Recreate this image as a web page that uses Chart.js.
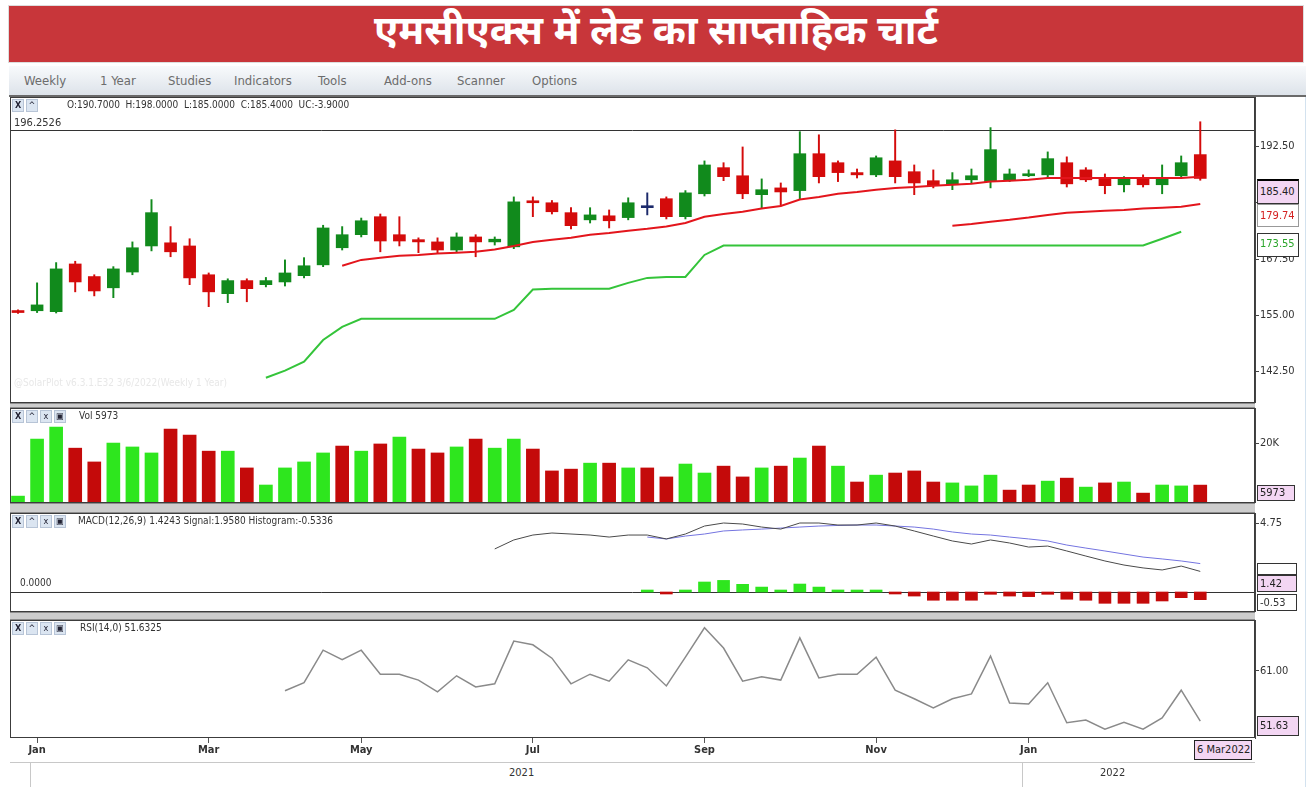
<!DOCTYPE html>
<html lang="hi">
<head>
<meta charset="UTF-8">
<title>MCX Lead weekly chart</title>
<script src="https://cdn.jsdelivr.net/npm/chart.js@4.4.1/dist/chart.umd.min.js"></script>
<style>
    body { margin: 0; width: 1312px; height: 787px; background: #fff; position: relative; overflow: hidden;
           font-family: 'Liberation Sans Narrow', 'DejaVu Sans Condensed', Arial, sans-serif; color: #333; }
    .abs { position: absolute; }
    #title { left: 9px; top: 6px; width: 1294px; height: 56px; background: #c8363a; color: #fff;
             font: bold 40px 'Noto Sans Devanagari', 'Lohit Devanagari', 'Noto Sans', sans-serif;
             text-align: center; line-height: 56px; box-shadow: 0 0 0 1px #ddd; }
    #toolbar { left: 9px; top: 66px; width: 1297px; height: 29px; background: linear-gradient(#f8fafc, #dde3ea);
               border-bottom: 2px solid #6a6a6a; }
    #toolbar span { position: absolute; top: 7px; font-size: 13px; color: #6c6c6c; }
    .sep { left: 10px; width: 1245px; background: #cdcdcd; border-top: 1px solid #8c8c8c; border-bottom: 1px solid #8c8c8c; box-sizing: border-box; }
    .hdr { font-size: 10px; color: #333; white-space: nowrap; }
    .ico { display: inline-block; width: 10px; height: 11px; margin-right: 2px; background: #dbe5f1; border: 1px solid #b7c4d6;
           font-size: 9px; line-height: 11px; text-align: center; color: #223; vertical-align: top; }
    .box { left: 1257px; width: 42px; font-size: 11px; text-align: left; padding-left: 2px; box-sizing: border-box; border: 1px solid #333; }
    .pink { background: #f3d6f3; color: #222; }
    .wrap { left: 10px; }
</style>
</head>
<body>
<div id="title" class="abs">एमसीएक्स में लेड का साप्ताहिक चार्ट</div>
<div id="toolbar" class="abs">
    <span style="left:15px">Weekly</span>
    <span style="left:91px">1 Year</span>
    <span style="left:159px">Studies</span>
    <span style="left:225px">Indicators</span>
    <span style="left:309px">Tools</span>
    <span style="left:375px">Add-ons</span>
    <span style="left:448px">Scanner</span>
    <span style="left:523px">Options</span>
</div>

<div class="abs wrap" style="top:97px"><canvas id="priceChart" width="1295" height="306"></canvas></div>
<div class="abs sep" style="top:403px;height:5px"></div>
<div class="abs wrap" style="top:408px"><canvas id="volChart" width="1295" height="95"></canvas></div>
<div class="abs sep" style="top:503px;height:10px"></div>
<div class="abs wrap" style="top:513px"><canvas id="macdChart" width="1295" height="99"></canvas></div>
<div class="abs sep" style="top:612px;height:8px"></div>
<div class="abs wrap" style="top:620px"><canvas id="rsiChart" width="1295" height="142"></canvas></div>

<!-- panel headers -->
<div class="abs hdr" style="left:12px;top:99px"><span class="ico"><b>X</b></span><span class="ico">^</span></div>
<div class="abs hdr" style="left:67px;top:99px">O:190.7000 &nbsp;H:198.0000 &nbsp;L:185.0000 &nbsp;C:185.4000 &nbsp;UC:-3.9000</div>
<div class="abs hdr" style="left:14px;top:116px;font-size:11px">196.2526</div>
<div class="abs hdr" style="left:14px;top:377px;color:#e8e8e8">@SolarPlot v6.3.1.E32 3/6/2022(Weekly 1 Year)</div>

<div class="abs hdr" style="left:12px;top:410px"><span class="ico"><b>X</b></span><span class="ico">^</span><span class="ico">x</span><span class="ico">&#9635;</span></div>
<div class="abs hdr" style="left:79px;top:410px">Vol 5973</div>

<div class="abs hdr" style="left:12px;top:515px"><span class="ico"><b>X</b></span><span class="ico">^</span><span class="ico">x</span><span class="ico">&#9635;</span></div>
<div class="abs hdr" style="left:78px;top:515px">MACD(12,26,9) 1.4243 Signal:1.9580 Histogram:-0.5336</div>
<div class="abs hdr" style="left:20px;top:577px">0.0000</div>

<div class="abs hdr" style="left:12px;top:622px"><span class="ico"><b>X</b></span><span class="ico">^</span><span class="ico">x</span><span class="ico">&#9635;</span></div>
<div class="abs hdr" style="left:80px;top:622px">RSI(14,0) 51.6325</div>

<!-- right side value boxes -->
<div class="abs box pink" style="top:179px;height:25px;line-height:21px;border-top:2px solid #000">185.40</div>
<div class="abs box" style="top:204px;height:23px;line-height:21px;color:#d42020;border-color:#999;background:#fff">179.74</div>
<div class="abs box" style="top:233px;height:24px;line-height:20px;color:#2aa52a;background:#fff">173.55</div>
<div class="abs box pink" style="top:485px;height:16px;line-height:14px;width:38px">5973</div>
<div class="abs box" style="top:563px;height:12px;width:40px;background:#fff"></div>
<div class="abs box pink" style="top:575px;height:17px;line-height:15px;width:40px">1.42</div>
<div class="abs box" style="top:594px;height:17px;line-height:15px;width:40px;background:#fff">-0.53</div>
<div class="abs box pink" style="top:716px;height:20px;line-height:18px">51.63</div>
<div class="abs box pink" style="left:1194px;top:740px;width:58px;height:20px;line-height:18px;border-color:#222">6 Mar2022</div>

<!-- year row -->
<div class="abs" style="left:10px;top:762px;width:1245px;height:1px;background:#c8c8c8"></div>
<div class="abs" style="left:30px;top:763px;width:1px;height:24px;background:#c8c8c8"></div>
<div class="abs" style="left:1022px;top:763px;width:1px;height:24px;background:#c8c8c8"></div>
<div class="abs hdr" style="left:509px;top:766px;font-size:11px">2021</div>
<div class="abs hdr" style="left:1100px;top:766px;font-size:11px">2022</div>
<div class="abs" style="left:1305px;top:97px;width:1px;height:690px;background:#d3e2ef"></div>

<script>
    // weekly candles, 27 Dec 2020 .. 6 Mar 2022
    var firstWeek = new Date(2020, 11, 27);
    var weeks = [];
    for (var w = 0; w < 63; w++) {
        var d = new Date(firstWeek.getTime() + w * 7 * 86400000);
        weeks.push(d.toDateString());
    }

    var opens = [155.9, 156.0, 155.8, 166.4, 163.6, 161.1, 164.6, 170.4, 171.1, 170.4,
        164.0, 159.8, 162.7, 161.8, 162.4, 163.8, 166.2, 170.0, 172.9, 176.9,
        172.9, 171.8, 171.3, 169.5, 172.4, 171.3, 170.2, 180.3, 180.0, 177.8,
        176.2, 177.1, 176.7, 178.9, 180.9, 176.9, 182.0, 187.8, 186.0, 181.8,
        183.3, 182.7, 190.9, 188.9, 186.7, 186.2, 189.3, 186.9, 184.9, 184.0,
        185.1, 184.7, 185.1, 186.0, 186.2, 188.9, 187.3, 185.3, 184.0, 185.3,
        184.0, 186.0, 190.7];
    var highs = [156.2, 162.2, 166.7, 167.0, 164.0, 165.8, 171.3, 180.7, 174.7, 172.0,
        164.4, 163.1, 163.1, 163.4, 167.3, 167.8, 175.0, 174.7, 176.6, 177.5,
        176.9, 172.2, 172.2, 173.3, 172.9, 172.4, 181.3, 181.3, 180.5, 178.9,
        178.9, 178.4, 181.1, 182.2, 181.3, 182.7, 189.3, 188.9, 192.4, 185.3,
        184.4, 195.8, 195.1, 189.3, 187.5, 190.4, 196.2, 188.4, 187.3, 186.7,
        187.5, 196.7, 187.5, 187.3, 191.3, 190.2, 187.8, 186.4, 185.8, 186.2,
        188.4, 190.4, 198.0];
    var lows = [155.4, 155.6, 155.5, 160.2, 159.3, 158.9, 164.0, 169.3, 168.0, 161.8,
        156.9, 157.8, 158.0, 161.3, 161.5, 163.3, 165.8, 169.5, 172.4, 169.1,
        170.4, 168.9, 168.9, 169.0, 168.0, 170.6, 169.8, 176.9, 177.5, 174.2,
        175.5, 174.4, 176.2, 177.3, 176.4, 176.4, 181.5, 184.9, 180.9, 178.9,
        179.3, 180.7, 184.4, 184.7, 185.5, 185.8, 184.4, 181.8, 183.3, 182.9,
        184.4, 183.3, 184.7, 185.8, 185.5, 183.5, 184.7, 182.0, 182.4, 183.5,
        182.0, 185.5, 185.0];
    var closes = [155.6, 157.3, 165.3, 162.4, 160.4, 165.3, 170.0, 177.8, 169.1, 163.3,
        160.2, 162.7, 160.9, 162.7, 164.4, 166.0, 174.4, 172.9, 176.0, 171.5,
        171.5, 171.3, 169.5, 172.4, 171.3, 171.9, 180.2, 180.0, 178.0, 174.9,
        177.3, 176.0, 180.0, 178.9, 176.9, 182.2, 188.4, 185.8, 182.0, 182.9,
        182.4, 190.9, 185.8, 186.7, 186.2, 190.0, 185.8, 184.4, 183.8, 185.1,
        186.0, 191.8, 186.4, 186.4, 189.8, 184.2, 185.1, 183.8, 185.3, 184.0,
        185.5, 188.9, 185.4];

    var volume = [2300, 21300, 25300, 18300, 13700, 20000, 18700, 16700, 24700, 22700,
        17300, 17300, 11700, 6000, 11700, 13700, 16700, 19000, 17300, 19700,
        22000, 18000, 16700, 18700, 21300, 18300, 21300, 18000, 10700, 11300,
        13300, 13300, 11700, 11700, 8700, 13000, 10000, 12300, 8700, 11700,
        12300, 15000, 19000, 12300, 7000, 9300, 10000, 10700, 7000, 6700,
        5700, 9300, 4300, 6000, 7300, 8300, 5300, 6700, 7000, 3300,
        6000, 5700, 5973];
    var volUp = [1, 1, 1, 0, 0, 1, 1, 1, 0, 0, 0, 1, 0, 1, 1, 1, 1, 0, 1, 0,
        1, 0, 0, 1, 0, 1, 1, 0, 0, 0, 1, 0, 1, 0, 0, 1, 1, 0, 0, 1,
        0, 1, 0, 1, 0, 1, 0, 0, 0, 1, 1, 1, 0, 0, 1, 0, 1, 0, 1, 0,
        1, 1, 0];

    // averages / bands, each starts at the given week index
    var maFastStart = 17;
    var maFast = [166.0, 167.3, 167.8, 168.2, 168.4, 168.7, 168.9, 169.1, 169.6, 170.4,
        171.3, 171.8, 172.2, 172.9, 173.3, 173.8, 174.2, 174.7, 175.5, 176.9,
        177.5, 178.0, 178.7, 179.3, 180.7, 181.3, 182.0, 182.4, 182.9, 183.3,
        183.5, 183.8, 184.0, 184.2, 184.7, 184.9, 185.1, 185.5, 185.5, 185.5,
        185.5, 185.5, 185.5, 185.5, 185.5, 185.8];
    var maSlowStart = 49;
    var maSlow = [174.9, 175.3, 175.8, 176.2, 176.7, 177.3, 177.8, 178.0, 178.2, 178.4,
        178.7, 178.9, 179.1, 179.74];
    var bandStart = 13;
    var band = [141.1, 142.7, 144.7, 149.5, 152.4, 154.2, 154.2, 154.2, 154.2, 154.2,
        154.2, 154.2, 154.2, 156.2, 160.7, 160.9, 160.9, 160.9, 160.9, 162.2,
        163.3, 163.5, 163.5, 168.4, 170.5, 170.5, 170.5, 170.5, 170.5, 170.5,
        170.5, 170.5, 170.5, 170.5, 170.5, 170.5, 170.5, 170.5, 170.5, 170.5,
        170.5, 170.5, 170.5, 170.5, 170.5, 170.5, 170.5, 172.0, 173.55];
    var refLevel = 196.2526;

    var macdStart = 25;
    var macd = [2.97, 3.59, 3.93, 4.07, 4.0, 3.93, 3.79, 3.93, 3.93, 3.66,
        4.0, 4.55, 4.76, 4.69, 4.48, 4.34, 4.76, 4.76, 4.62, 4.62,
        4.76, 4.55, 4.21, 3.86, 3.52, 3.31, 3.59, 3.38, 3.10, 3.17,
        2.83, 2.48, 2.14, 1.86, 1.66, 1.52, 1.79, 1.42];
    var signalStart = 33;
    var signal = [3.79, 3.66, 3.86, 4.0, 4.21, 4.28, 4.34, 4.41, 4.48, 4.55,
        4.59, 4.62, 4.62, 4.55, 4.48, 4.34, 4.14, 4.0, 3.93, 3.79,
        3.66, 3.52, 3.24, 3.03, 2.83, 2.62, 2.41, 2.28, 2.14, 1.96];
    var hist = [0.1, -0.05, 0.05, 0.69, 0.8, 0.53, 0.34, 0.05, 0.55, 0.34,
        0.14, 0.1, 0.1, -0.05, -0.28, -0.57, -0.57, -0.57, -0.16, -0.28,
        -0.32, -0.16, -0.5, -0.57, -0.78, -0.78, -0.78, -0.62, -0.39, -0.53];

    var rsiStart = 14;
    var rsi = [57.3, 58.8, 64.9, 63.1, 64.9, 60.4, 60.4, 59.3, 57.1, 60.1,
        58.0, 58.6, 66.6, 65.9, 63.4, 58.6, 60.4, 59.1, 63.1, 61.6,
        58.2, 63.6, 69.1, 65.3, 59.1, 59.9, 59.3, 67.2, 59.7, 60.4,
        60.4, 63.6, 57.4, 55.8, 54.1, 55.8, 56.7, 63.8, 55.0, 54.8,
        58.8, 51.3, 51.8, 50.1, 51.4, 50.1, 52.2, 57.4, 51.63];

    var monthTickIdx = [1, 10, 18, 27, 36, 45, 53];
    var monthTickLbl = ['Jan', 'Mar', 'May', 'Jul', 'Sep', 'Nov', 'Jan'];

    var FONT = "'Liberation Sans Narrow', 'DejaVu Sans Condensed', Arial, sans-serif";
    var GREEN = '#118a1c', RED = '#d40b0b', NAVY = '#1c2a6b';
    var VOL_GREEN = '#2ee61e', VOL_RED = '#c40a0a';

    function series(start, arr) {
        return arr.map(function (v, k) { return {x: start + k, y: v}; });
    }
    function candleColor(i) {
        if (closes[i] > opens[i]) return GREEN;
        if (closes[i] < opens[i]) return RED;
        return NAVY;
    }

    var frame = {
        id: 'frame',
        afterDraw: function (chart) {
            var a = chart.chartArea, c = chart.ctx;
            c.save();
            c.strokeStyle = '#3c3c3c';
            c.lineWidth = 1;
            c.strokeRect(a.left + 0.5, a.top + 0.5, a.right - a.left - 1, a.bottom - a.top - 1);
            c.restore();
        }
    };
    var hlines = {
        id: 'hlines',
        beforeDatasetsDraw: function (chart, args, opts) {
            var a = chart.chartArea, c = chart.ctx, ys = chart.scales.y;
            (opts.lines || []).forEach(function (l) {
                var py = Math.round(ys.getPixelForValue(l.value)) + 0.5;
                c.save();
                c.strokeStyle = l.color;
                c.lineWidth = 1;
                c.beginPath();
                c.moveTo(a.left, py);
                c.lineTo(a.right, py);
                c.stroke();
                c.restore();
            });
        }
    };

    function xAxis(show) {
        return {
            type: 'linear', min: -0.42, max: 64.87, display: show, offset: false,
            afterBuildTicks: function (s) { s.ticks = monthTickIdx.map(function (v) { return {value: v}; }); },
            afterFit: function (s) { s.paddingLeft = 0; s.paddingRight = 0; if (show) s.height = 24; },
            grid: {offset: false, drawOnChartArea: false, tickLength: 5, color: '#555'},
            border: {display: false},
            ticks: {
                autoSkip: false, maxRotation: 0, padding: 1, color: '#333',
                font: {family: FONT, size: 11, weight: 'bold'},
                callback: function (v) { return monthTickLbl[monthTickIdx.indexOf(v)]; }
            }
        };
    }
    function yAxis(min, max, ticks, fmt) {
        return {
            position: 'right', min: min, max: max,
            afterBuildTicks: function (s) { s.ticks = ticks.map(function (v) { return {value: v}; }); },
            afterFit: function (s) { s.width = 50; s.paddingTop = 0; s.paddingBottom = 0; },
            grid: {drawOnChartArea: false, tickLength: 4, color: '#444'},
            border: {display: true, color: '#444'},
            ticks: {padding: 1, color: '#333', font: {family: FONT, size: 11}, callback: fmt}
        };
    }
    function baseOptions(scales, lines) {
        return {
            responsive: false, animation: false, events: [],
            layout: {padding: 0},
            plugins: {legend: {display: false}, tooltip: {enabled: false}, hlines: {lines: lines || []}},
            scales: scales
        };
    }

    window.onload = function () {
        // price panel
        new Chart(document.getElementById('priceChart'), {
            type: 'bar',
            data: {
                datasets: [{
                    type: 'line', data: series(maFastStart, maFast), borderColor: '#e3151c', borderWidth: 2,
                    pointRadius: 0, order: -1
                }, {
                    type: 'line', data: series(maSlowStart, maSlow), borderColor: '#e3151c', borderWidth: 2,
                    pointRadius: 0, order: -1
                }, {
                    type: 'line', data: series(bandStart, band), borderColor: '#34c43a', borderWidth: 2,
                    pointRadius: 0, order: -1
                }, {
                    data: opens.map(function (o, i) { return {x: i, y: [Math.min(o, closes[i]), Math.max(o, closes[i])]}; }),
                    backgroundColor: opens.map(function (o, i) { return candleColor(i); }),
                    barThickness: 12, minBarLength: 2, grouped: false, order: 0
                }, {
                    data: lows.map(function (l, i) { return {x: i, y: [l, highs[i]]}; }),
                    backgroundColor: lows.map(function (l, i) { return candleColor(i); }),
                    barThickness: 1.3, grouped: false, order: 1
                }]
            },
            options: baseOptions({
                x: xAxis(false),
                y: yAxis(135.5, 203.5, [142.5, 155, 167.5, 180, 192.5], function (v) { return v.toFixed(2); })
            }, [{value: refLevel, color: '#333'}]),
            plugins: [frame, hlines]
        });

        // volume panel
        new Chart(document.getElementById('volChart'), {
            type: 'bar',
            data: {
                datasets: [{
                    data: volume.map(function (v, i) { return {x: i, y: v}; }),
                    backgroundColor: volUp.map(function (u) { return u ? VOL_GREEN : VOL_RED; }),
                    barThickness: 13
                }]
            },
            options: baseOptions({
                x: xAxis(false),
                y: yAxis(0, 31700, [20000], function () { return '20K'; })
            }),
            plugins: [frame]
        });

        // MACD panel
        new Chart(document.getElementById('macdChart'), {
            type: 'bar',
            data: {
                datasets: [{
                    type: 'line', data: series(macdStart, macd), borderColor: '#4a4a4a', borderWidth: 1,
                    pointRadius: 0, order: -1
                }, {
                    type: 'line', data: series(signalStart, signal), borderColor: '#7474e0', borderWidth: 1,
                    pointRadius: 0, order: -1
                }, {
                    data: series(signalStart, hist),
                    backgroundColor: hist.map(function (h) { return h >= 0 ? VOL_GREEN : VOL_RED; }),
                    barThickness: 12, minBarLength: 2
                }]
            },
            options: baseOptions({
                x: xAxis(false),
                y: yAxis(-1.38, 5.45, [4.75], function () { return '4.75'; })
            }, [{value: 0, color: '#333'}]),
            plugins: [frame, hlines]
        });

        // RSI panel with the date axis
        new Chart(document.getElementById('rsiChart'), {
            type: 'line',
            data: {
                datasets: [{
                    data: series(rsiStart, rsi), borderColor: '#8a8a8a', borderWidth: 1.5, pointRadius: 0
                }]
            },
            options: baseOptions({
                x: xAxis(true),
                y: yAxis(48.45, 70.55, [61], function () { return '61.00'; })
            }),
            plugins: [frame]
        });
    };
</script>
</body>
</html>
